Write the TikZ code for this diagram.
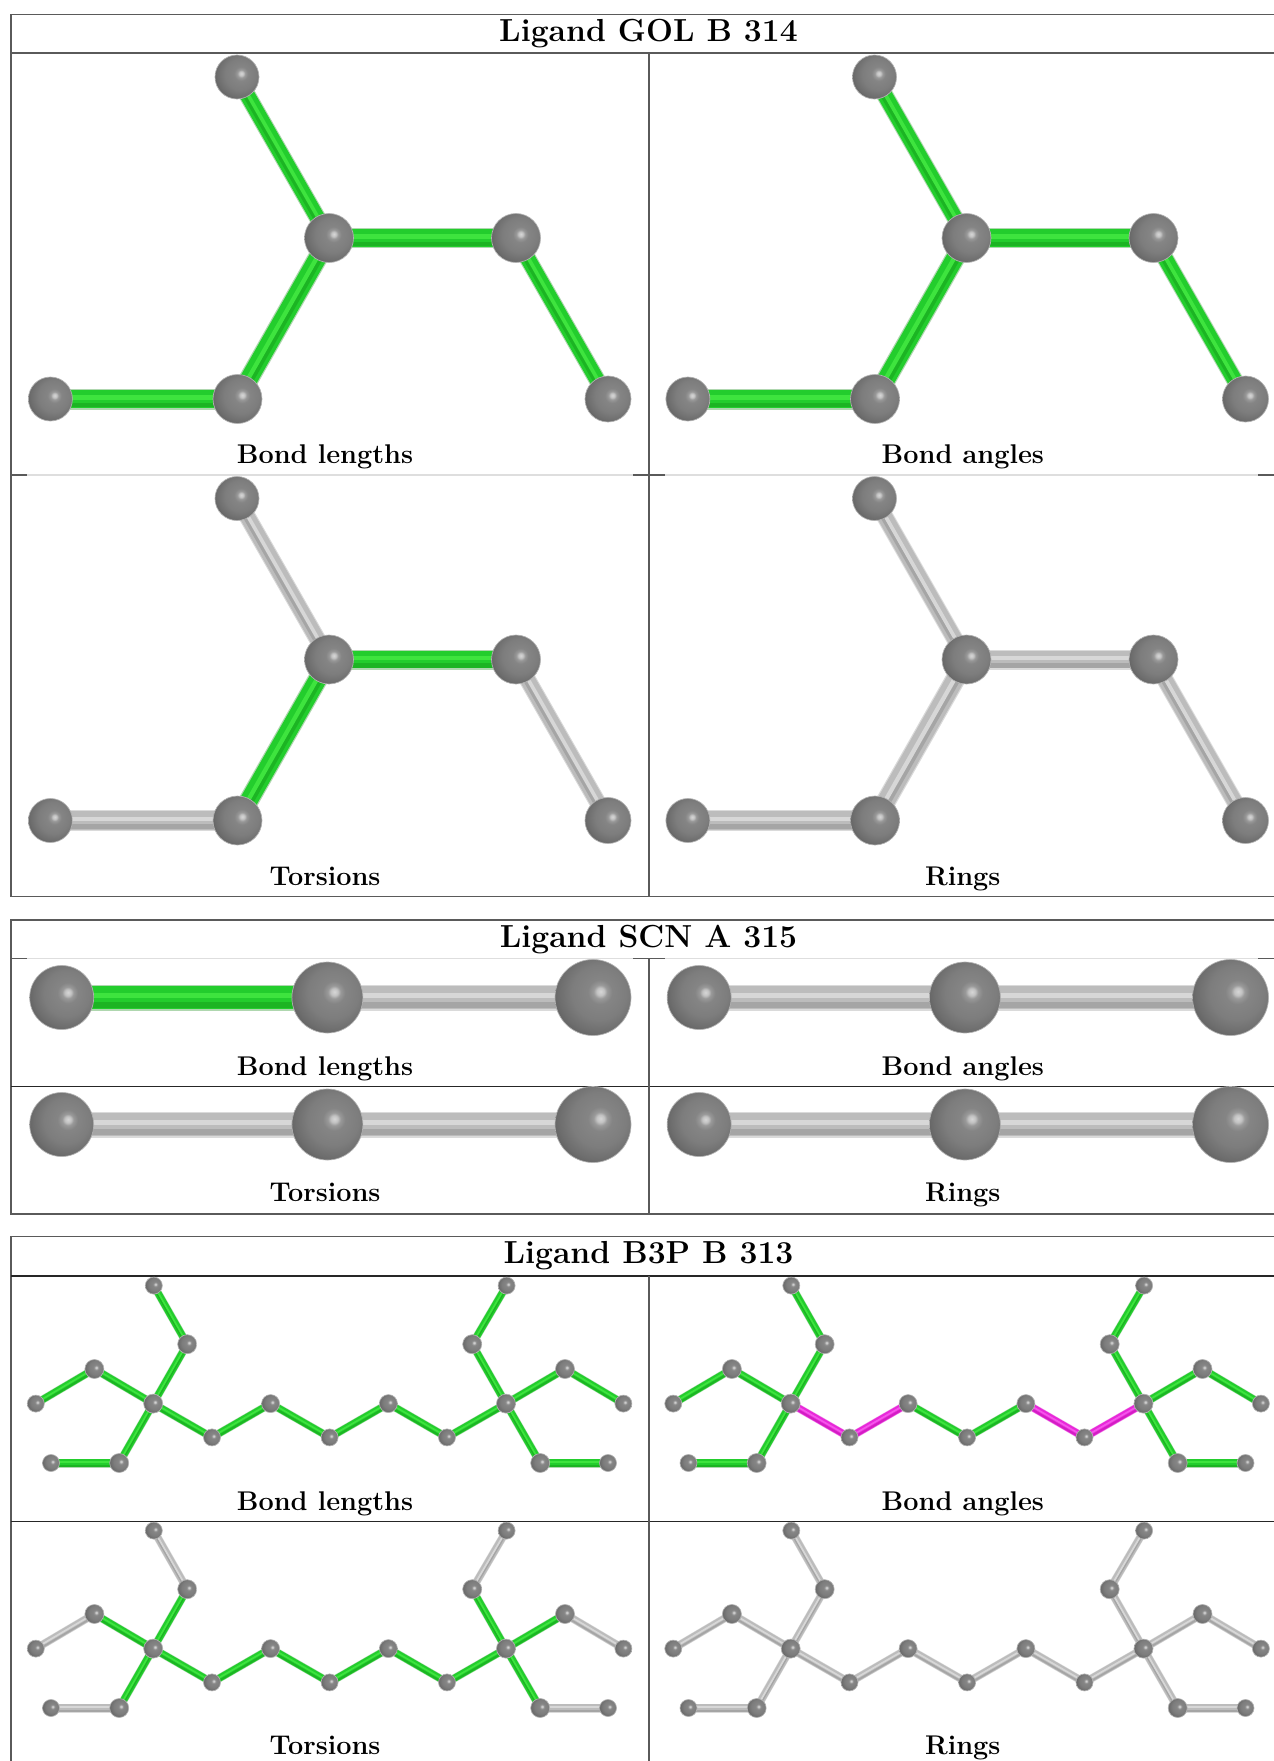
\documentclass[tikz,border=0pt]{standalone}
\pgfdeclarelayer{bg}
\pgfsetlayers{bg,main}
\pgfdeclareradialshading{atomshade}{\pgfpoint{5bp}{4bp}}{%
  rgb(0bp)=(0.84,0.84,0.84);
  rgb(2.5bp)=(0.76,0.76,0.76);
  rgb(4.5bp)=(0.60,0.60,0.60);
  rgb(8bp)=(0.52,0.52,0.52);
  rgb(18bp)=(0.49,0.49,0.49);
  rgb(26bp)=(0.43,0.43,0.43);
  rgb(33bp)=(0.36,0.36,0.36);
  rgb(100bp)=(0.36,0.36,0.36)}
\definecolor{gnhalo}{RGB}{175,215,175}
\definecolor{gnbody}{RGB}{35,205,45}
\definecolor{gndark}{RGB}{28,180,35}
\definecolor{gnlight}{RGB}{62,228,62}
\definecolor{gyhalo}{RGB}{218,218,218}
\definecolor{gybody}{RGB}{188,188,188}
\definecolor{gydark}{RGB}{165,165,165}
\definecolor{gylight}{RGB}{215,215,215}
\definecolor{mghalo}{RGB}{240,170,235}
\definecolor{mgbody}{RGB}{232,40,217}
\definecolor{mgdark}{RGB}{210,30,195}
\definecolor{mglight}{RGB}{245,85,235}
\definecolor{ruledark}{RGB}{90,90,90}
\definecolor{rulepale}{RGB}{222,222,222}
\tikzset{
  atom/.style={circle,inner sep=0pt,outer sep=0pt,minimum size=#1*1.5pt,
    shading=atomshade,draw=black!30,line width=0.5pt},
  frameline/.style={draw=ruledark,line width=0.95pt},
  strongline/.style={draw=black!85,line width=0.95pt},
  paleline/.style={draw=rulepale,line width=0.8pt},
  paneltext/.style={font=\fontsize{20.3}{23}\selectfont\bfseries,anchor=base,inner sep=0pt},
  titletext/.style={font=\fontsize{23.9}{27}\selectfont\bfseries,anchor=base,inner sep=0pt},
}
% #1 colour key, #2 #3 end nodes, #4 width in px
\newcommand\bondl[4]{%
  \begin{pgfonlayer}{bg}
    \draw[color=#1halo,line width=#4*0.75pt] (#2.center) -- (#3.center);
    \draw[color=#1body,line width=#4*0.66pt] (#2.center) -- (#3.center);
    \draw[color=#1dark,line width=#4*0.16pt,transform canvas={yshift=-#4*0.22pt}] (#2.center) -- (#3.center);
    \draw[color=#1light,line width=#4*0.16pt,transform canvas={yshift=#4*0.06pt}] (#2.center) -- (#3.center);
  \end{pgfonlayer}}
% prefix, shift x, shift y, colours of bonds LS SC CE CT ER
\newcommand\molGOL[8]{%
  \begin{scope}[shift={(#2,#3)},name prefix=#1-]
    \node[atom=22] (T) at (237,77) {};
    \node[atom=24.5] (C) at (329,238) {};
    \node[atom=24.5] (E) at (516,238) {};
    \node[atom=24.5] (S) at (237.5,399) {};
    \node[atom=22] (L) at (50.4,399) {};
    \node[atom=23] (R) at (608,399) {};
    \bondl{#4}{L}{S}{21}
    \bondl{#5}{S}{C}{20}
    \bondl{#6}{C}{E}{20}
    \bondl{#7}{C}{T}{17}
    \bondl{#8}{E}{R}{17}
  \end{scope}}
% prefix, shift x, shift y, colours of bonds LM MR
\newcommand\molSCN[5]{%
  \begin{scope}[shift={(#2,#3)},name prefix=#1-]
    \node[atom=32] (L) at (61.7,997.5) {};
    \node[atom=35.5] (M) at (327.4,997.5) {};
    \node[atom=38] (R) at (593,997.5) {};
    \bondl{#4}{L}{M}{26}
    \bondl{#5}{M}{R}{26}
  \end{scope}}
% prefix, shift x, shift y, colours: outer, inner, chain ends, chain middle
\newcommand\molBTP[7]{%
  \begin{scope}[shift={(#2,#3)},name prefix=#1-]
    \node[atom=8.5] (a1) at (153.8,1285.6) {};
    \node[atom=9.5] (a2) at (187.2,1344.2) {};
    \node[atom=9.5] (a3) at (94.4,1369) {};
    \node[atom=8.5] (a4) at (35.8,1403.6) {};
    \node[atom=9.5] (a5) at (153.2,1403.6) {};
    \node[atom=8.5] (a6) at (51,1463) {};
    \node[atom=9.5] (a7) at (119.2,1463) {};
    \node[atom=8.5] (c1) at (212,1437.4) {};
    \node[atom=9] (c2) at (270.6,1403.6) {};
    \node[atom=8.5] (c3) at (329.6,1437.4) {};
    \node[atom=9] (c4) at (388.4,1403.6) {};
    \node[atom=8.5] (c5) at (447,1437.4) {};
    \node[atom=9.5] (r5) at (506,1403.6) {};
    \node[atom=8.5] (r1) at (506.6,1285.6) {};
    \node[atom=9.5] (r2) at (472.2,1344.2) {};
    \node[atom=9.5] (r3) at (565,1369) {};
    \node[atom=8.5] (r4) at (623.4,1403.6) {};
    \node[atom=9.5] (r7) at (540.2,1463) {};
    \node[atom=8.5] (r6) at (608,1463) {};
    \bondl{#4}{a1}{a2}{8}
    \bondl{#4}{a3}{a4}{8}
    \bondl{#4}{a6}{a7}{9}
    \bondl{#4}{r1}{r2}{8}
    \bondl{#4}{r3}{r4}{8}
    \bondl{#4}{r7}{r6}{9}
    \bondl{#5}{a5}{a2}{8}
    \bondl{#5}{a5}{a3}{8}
    \bondl{#5}{a5}{a7}{8}
    \bondl{#5}{r5}{r2}{8}
    \bondl{#5}{r5}{r3}{8}
    \bondl{#5}{r5}{r7}{8}
    \bondl{#6}{a5}{c1}{8}
    \bondl{#6}{c1}{c2}{8}
    \bondl{#7}{c2}{c3}{8}
    \bondl{#7}{c3}{c4}{8}
    \bondl{#6}{c4}{c5}{8}
    \bondl{#6}{c5}{r5}{8}
  \end{scope}}
\begin{document}
\begin{tikzpicture}[x=0.75pt,y=-0.75pt]
\useasboundingbox (0,0) rectangle (1274,1761);
\begin{pgfonlayer}{bg}
  \fill[white] (0,0) rectangle (1274,1761);
\end{pgfonlayer}
% ---------- GOL frame
\draw[frameline] (1274,14.5) -- (11,14.5) -- (11,896.5) -- (1274,896.5);
\draw[frameline] (11,53) -- (1274,53);
\draw[frameline] (649,53) -- (649,896.5);
\draw[paleline] (11,475) -- (1274,475);
\draw[frameline] (11,475) -- (27,475);
\draw[frameline] (633,475) -- (665,475);
\draw[frameline] (1258,475) -- (1274,475);
% ---------- SCN frame
\draw[frameline] (1274,920) -- (11,920) -- (11,1214) -- (1274,1214);
\draw[paleline] (11,958.7) -- (1274,958.7);
\draw[frameline] (11,958.7) -- (27,958.7);
\draw[frameline] (633,958.7) -- (665,958.7);
\draw[frameline] (1258,958.7) -- (1274,958.7);
\draw[strongline] (11,1086.3) -- (1274,1086.3);
\draw[frameline] (649,958.7) -- (649,1214);
% ---------- B3P frame
\draw[frameline] (1274,1236.5) -- (11,1236.5) -- (11,1761);
\draw[strongline] (11,1276) -- (1274,1276);
\draw[strongline] (11,1521.5) -- (1274,1521.5);
\draw[frameline] (649,1276) -- (649,1761);
% ---------- molecules
\molGOL{ga}{0}{0}{gn}{gn}{gn}{gn}{gn}
\molGOL{gb}{637.5}{0}{gn}{gn}{gn}{gn}{gn}
\molGOL{gc}{0}{421.5}{gy}{gn}{gn}{gy}{gy}
\molGOL{gd}{637.5}{421.5}{gy}{gy}{gy}{gy}{gy}
\molSCN{sa}{0}{0}{gn}{gy}
\molSCN{sb}{637.5}{0}{gy}{gy}
\molSCN{sc}{0}{127}{gy}{gy}
\molSCN{sd}{637.5}{127}{gy}{gy}
\molBTP{ba}{0}{0}{gn}{gn}{gn}{gn}
\molBTP{bb}{637.5}{0}{gn}{gn}{mg}{gn}
\molBTP{bc}{0}{245}{gy}{gn}{gn}{gn}
\molBTP{bd}{637.5}{245}{gy}{gy}{gy}{gy}
% ---------- texts
\node[titletext] (t1) at (648.5,41.2) {Ligand GOL B 314};
\node[paneltext] (l1) at (325,463) {Bond lengths};
\node[paneltext] (l2) at (962.8,463) {Bond angles};
\node[paneltext] (l3) at (325,885.2) {Torsions};
\node[paneltext] (l4) at (962.8,885.2) {Rings};
\node[titletext] (t2) at (648.5,947.2) {Ligand SCN A 315};
\node[paneltext] (l5) at (325,1075) {Bond lengths};
\node[paneltext] (l6) at (962.8,1075) {Bond angles};
\node[paneltext] (l7) at (325,1201.7) {Torsions};
\node[paneltext] (l8) at (962.8,1201.7) {Rings};
\node[titletext] (t3) at (648.5,1263.8) {Ligand B3P B 313};
\node[paneltext] (l9) at (325,1510) {Bond lengths};
\node[paneltext] (l10) at (962.8,1510) {Bond angles};
\node[paneltext] (l11) at (325,1754.8) {Torsions};
\node[paneltext] (l12) at (962.8,1754.8) {Rings};
\end{tikzpicture}
\end{document}
